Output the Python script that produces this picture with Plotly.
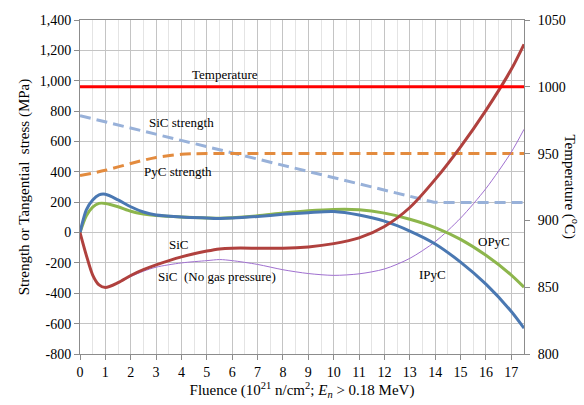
import plotly.graph_objects as go

fluence = [0, 0.25, 0.5, 0.75, 1, 1.5, 2, 2.5, 3, 4, 5, 5.5, 6, 7, 8, 9, 10, 11, 12, 13, 14, 15, 16, 17, 17.5]
ipyc = [0, 150, 215, 248, 252, 215, 170, 135, 115, 103, 96, 93, 95, 106, 120, 131, 138, 115, 75, 10, -75, -195, -340, -520, -630]
opyc = [0, 110, 168, 192, 192, 170, 140, 122, 112, 102, 96, 94, 97, 110, 128, 143, 152, 150, 128, 88, 33, -45, -150, -280, -360]
sic = [0, -150, -280, -345, -362, -330, -283, -245, -213, -160, -122, -108, -103, -103, -104, -95, -73, -35, 40, 165, 350, 565, 805, 1075, 1240]
sic_nogas = [0, -150, -280, -345, -362, -332, -290, -255, -228, -200, -185, -178, -185, -210, -245, -270, -282, -272, -240, -170, -60, 95, 290, 530, 680]

sic_str_x = [0, 13.6, 13.95, 14.3, 17.5]
sic_str_y = [770, 213, 200, 198, 198]
pyc_str_x = [0, 1, 2, 3, 4, 4.5, 5, 17.5]
pyc_str_y = [375, 410, 455, 495, 515, 519, 520, 520]

temp_x = [0, 17.5]
temp_y = [1000, 1000]

left_ticks = [-800, -600, -400, -200, 0, 200, 400, 600, 800, 1000, 1200, 1400]
left_labels = ["-800", "-600", "-400", "-200", "0", "200", "400", "600", "800", "1,000", "1,200", "1,400"]
right_ticks = [800, 850, 900, 950, 1000, 1050]
x_ticks = list(range(0, 18))

FONT = "Liberation Serif, Times New Roman, serif"

fig = go.Figure()

def add(x, y, color, width, dash=None, shape="spline", yaxis="y"):
    fig.add_trace(go.Scatter(
        x=x, y=y, mode="lines", yaxis=yaxis,
        line=dict(color=color, width=width, dash=dash, shape=shape, smoothing=0.8),
        showlegend=False, hoverinfo="skip"))

add(sic_str_x, sic_str_y, "#98b1d9", 3, "11px,6px", shape="linear")
add(pyc_str_x, pyc_str_y, "#e38b3e", 3, "11px,6px")
add(fluence, sic_nogas, "#a070d0", 1)
add(fluence, opyc, "#8db64c", 3)
add(fluence, ipyc, "#4a78b2", 3)
add(fluence, sic, "#b0413e", 3)
fig.add_trace(go.Scatter(x=temp_x, y=temp_y, mode="lines", yaxis="y2",
                         line=dict(color="#ff0000", width=3), showlegend=False, hoverinfo="skip"))

annots = [
    ("Temperature", 5.72, 1039),
    ("SiC strength", 4.0, 725),
    ("PyC strength", 3.87, 403),
    ("SiC", 3.9, -82),
    ("SiC  (No gas pressure)", 5.4, -292),
    ("OPyC", 16.3, -56),
    ("IPyC", 13.9, -279),
]
for text, ax, ay in annots:
    fig.add_annotation(x=ax, y=ay, xref="x", yref="y", text=text, showarrow=False,
                       font=dict(family=FONT, size=13, color="#000000"))

fig.add_annotation(x=1.0, xref="paper", xanchor="right", xshift=59, y=0.5, yref="paper",
                   text="Temperature (<sup>o</sup>C)", textangle=90, showarrow=False,
                   font=dict(family=FONT, size=15, color="#000000"))

fig.update_layout(
    width=584, height=405,
    margin=dict(l=80, r=60, t=20, b=49),
    paper_bgcolor="white", plot_bgcolor="white",
    font=dict(family=FONT, size=14, color="#000000"),
    xaxis=dict(range=[0, 17.5], tickvals=x_ticks, showgrid=True, gridcolor="#c4c4c4", gridwidth=1,
               minor=dict(dtick=0.5, showgrid=True, gridcolor="#e4e4e4", ticks=""),
               showline=True, linecolor="#8c8c8c", mirror=True, ticks="outside", ticklen=5,
               tickcolor="#8c8c8c", zeroline=False,
               title=dict(text="Fluence (10<sup>21</sup> n/cm<sup>2</sup>; <i>E<sub>n</sub></i> > 0.18 MeV)",
                          font=dict(family=FONT, size=15), standoff=3),
               tickfont=dict(family=FONT, size=14)),
    yaxis=dict(range=[-800, 1400], tickvals=left_ticks, ticktext=left_labels, showgrid=True,
               gridcolor="#c4c4c4", showline=True, linecolor="#8c8c8c", ticks="outside", ticklen=5,
               tickcolor="#8c8c8c", zeroline=False,
               title=dict(text="Strength or Tangential  stress (MPa)", font=dict(family=FONT, size=15), standoff=6),
               tickfont=dict(family=FONT, size=14)),
    yaxis2=dict(range=[800, 1050], tickvals=right_ticks, overlaying="y", side="right", showgrid=False,
                showline=True, linecolor="#8c8c8c", ticks="outside", ticklen=5, tickcolor="#8c8c8c",
                zeroline=False, tickfont=dict(family=FONT, size=14), ticklabelstandoff=5),
)

fig.write_html("out.html")
